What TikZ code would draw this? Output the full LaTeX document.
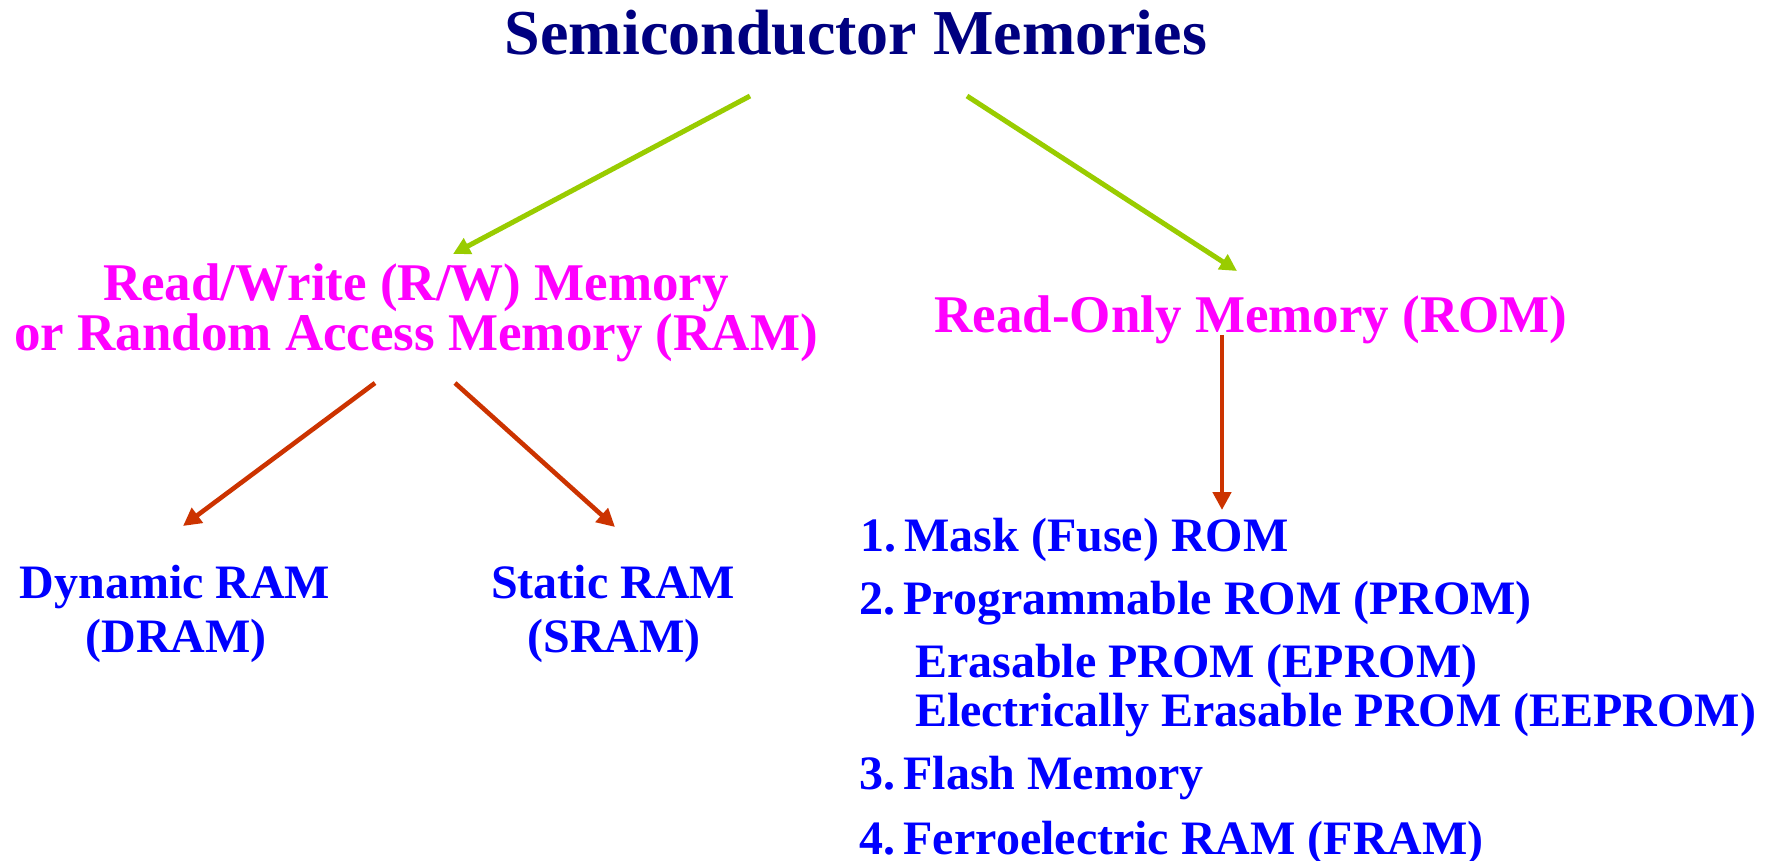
\documentclass[tikz,border=0pt]{standalone}
\usepackage{fontspec}
\setmainfont{Liberation Serif}
\usetikzlibrary{arrows.meta}

\definecolor{titlenavy}{RGB}{0,0,128}
\definecolor{catmagenta}{RGB}{255,0,255}
\definecolor{leafblue}{RGB}{0,0,255}
\definecolor{arrgreen}{RGB}{153,204,0}
\definecolor{arrred}{RGB}{204,51,0}

\begin{document}
\begin{tikzpicture}[
  x=1pt, y=-1pt,
  lbl/.style={inner sep=0pt, outer sep=0pt, anchor=base},
  titletext/.style={lbl, text=titlenavy, font=\fontsize{64}{70}\selectfont\bfseries},
  cattext/.style={lbl, text=catmagenta, font=\fontsize{53}{60}\selectfont\bfseries},
  leaftext/.style={lbl, text=leafblue, font=\fontsize{48}{55}\selectfont\bfseries},
  itemtext/.style={leaftext, anchor=base west},
  greenarr/.style={draw=arrgreen, line width=5pt, -{Triangle[length=17pt,width=17pt]}},
  redarr/.style={draw=arrred, line width=4.6pt, -{Triangle[length=18pt,width=18pt]}}
]
\useasboundingbox (0,0) rectangle (1769,860);
\fill[white] (0,0) rectangle (1769,860);

% title
\node[titletext] (title) at (856,54) {Semiconductor Memories};

% two main families
\node[cattext] (rwtop) at (416,300) {Read/Write (R/W) Memory};
\node[cattext] (rwbot) at (416,350) {or Random Access Memory (RAM)};
\node[cattext] (rom)   at (1251,332) {Read-Only Memory (ROM)};

% RAM kinds
\node[leaftext] (dyn1) at (175,598) {Dynamic RAM};
\node[leaftext] (dyn2) at (176,652) {(DRAM)};
\node[leaftext] (sta1) at (613,598) {Static RAM};
\node[leaftext] (sta2) at (614,652) {(SRAM)};

% ROM kinds
\node[itemtext] (mask)   at (860,551) {1.\hspace{0.18em}Mask (Fuse) ROM};
\node[itemtext] (prom)   at (859,614) {2.\hspace{0.18em}Programmable ROM (PROM)};
\node[itemtext] (eprom)  at (915,677) {Erasable PROM (EPROM)};
\node[itemtext] (eeprom) at (915,726) {Electrically Erasable PROM (EEPROM)};
\node[itemtext] (flash)  at (859,789) {3.\hspace{0.18em}Flash Memory};
\node[itemtext] (fram)   at (859,854) {4.\hspace{0.18em}Ferroelectric RAM (FRAM)};

% connectors
\draw[greenarr] ([shift={(-106pt,-42pt)}]title.base) -- ([shift={(37pt,46pt)}]rwtop.base);
\draw[greenarr] ([shift={(111pt,-42pt)}]title.base) -- ([shift={(-14pt,61pt)}]rom.base);
\draw[redarr] ([shift={(-41pt,-33pt)}]rwbot.base) -- ([shift={(8pt,72pt)}]dyn1.base);
\draw[redarr] ([shift={(39pt,-33pt)}]rwbot.base) -- ([shift={(2pt,71pt)}]sta1.base);
\draw[redarr] ([shift={(-29pt,-3pt)}]rom.base) -- ([shift={(362pt,41pt)}]mask.base west);
\end{tikzpicture}
\end{document}
